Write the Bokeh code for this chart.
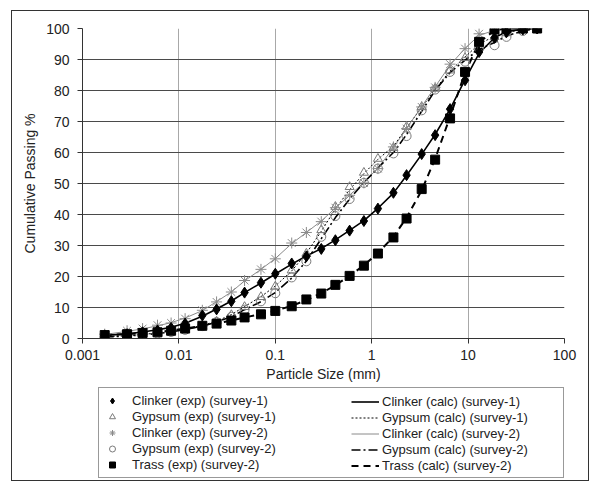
from bokeh.plotting import figure
from bokeh.layouts import column
from bokeh.models import (Legend, LegendItem, FixedTicker, CustomJSTickFormatter, Range1d)
from bokeh.embed import file_html
from bokeh.resources import INLINE

# ---------------- data ----------------
particle_size = [0.0017, 0.0029, 0.0042, 0.006, 0.0083, 0.0116, 0.0175, 0.0246, 0.035, 0.048,
                 0.071, 0.1, 0.148, 0.21, 0.3, 0.42, 0.59, 0.83, 1.16, 1.68,
                 2.3, 3.3, 4.55, 6.5, 9.3, 13.0, 18.8, 25.0, 37.0, 52.0]

clinker1_exp = [1.0, 1.4, 2.0, 2.6, 3.4, 4.8, 7.4, 9.4, 12.0, 14.8,
                18.0, 20.9, 24.2, 26.5, 28.9, 31.7, 34.8, 37.9, 41.9, 47.0,
                52.7, 59.5, 65.6, 74.0, 83.3, 92.4, 97.0, 98.8, 99.7, 100]
gypsum1_exp = [0.6, 0.9, 1.3, 1.8, 2.3, 3.0, 4.0, 5.5, 7.6, 10.2,
               13.4, 16.8, 22.0, 27.4, 35.0, 42.5, 48.9, 53.5, 58.0, 61.5,
               68.3, 74.7, 80.6, 86.5, 90.5, 95.0, 97.3, 98.5, 99.5, 100]
clinker2_exp = [1.4, 2.5, 3.2, 4.3, 5.0, 6.4, 9.1, 11.8, 15.0, 18.7,
                22.3, 25.7, 30.8, 34.2, 37.7, 42.2, 46.2, 50.2, 54.8, 61.8,
                67.7, 74.7, 81.0, 88.5, 93.5, 98.3, 99.5, 100, 100, 100]
gypsum2_exp = [0.5, 0.8, 1.2, 1.6, 2.1, 2.8, 4.0, 5.3, 7.0, 9.3,
               12.0, 14.6, 19.7, 24.9, 32.8, 39.5, 45.0, 50.2, 54.8, 59.7,
               65.3, 73.6, 80.3, 86.0, 89.3, 93.5, 94.6, 97.3, 99.2, 100]
trass_exp = [1.1, 1.4, 1.8, 2.0, 2.5, 3.2, 4.1, 4.8, 5.8, 6.8,
             7.8, 8.9, 10.4, 12.6, 14.5, 17.3, 20.2, 23.5, 27.4, 32.6,
             38.7, 48.2, 57.7, 71.0, 86.0, 95.7, 99.7, 100, 100, 100]

clinker1_calc = [1.0, 1.5, 2.1, 2.8, 3.6, 4.9, 7.2, 9.5, 12.1, 14.8,
                 17.9, 20.8, 24.0, 26.6, 29.0, 31.8, 34.9, 38.0, 42.0, 46.9,
                 52.6, 59.4, 65.8, 74.0, 83.5, 92.0, 97.0, 99.0, 99.8, 100]
gypsum1_calc = [0.6, 0.9, 1.3, 1.8, 2.4, 3.1, 4.2, 5.6, 7.7, 10.3,
                13.5, 16.9, 21.8, 27.5, 34.6, 41.8, 48.0, 53.2, 57.8, 62.0,
                68.0, 74.5, 80.5, 86.3, 90.8, 95.0, 97.5, 98.8, 99.6, 100]
clinker2_calc = [1.3, 2.3, 3.1, 4.1, 5.1, 6.6, 9.0, 11.9, 15.0, 18.6,
                 22.3, 25.8, 30.6, 34.2, 37.9, 42.1, 46.2, 50.3, 55.0, 61.5,
                 67.8, 74.8, 81.2, 88.2, 93.6, 97.8, 99.4, 99.9, 100, 100]
gypsum2_calc = [0.5, 0.8, 1.2, 1.6, 2.1, 2.9, 4.0, 5.3, 7.0, 9.3,
                11.9, 14.8, 19.5, 25.0, 32.2, 39.0, 45.0, 50.3, 55.0, 60.0,
                65.8, 73.3, 80.0, 85.8, 89.8, 93.2, 95.5, 97.6, 99.2, 100]
trass_calc = [1.1, 1.4, 1.8, 2.1, 2.6, 3.2, 4.0, 4.8, 5.8, 6.8,
              7.9, 9.0, 10.5, 12.4, 14.6, 17.2, 20.2, 23.6, 27.6, 32.8,
              39.0, 47.8, 58.0, 71.5, 85.8, 95.5, 99.4, 100, 100, 100]

exp_labels = ["Clinker (exp) (survey-1)", "Gypsum (exp) (survey-1)", "Clinker (exp) (survey-2)",
              "Gypsum (exp) (survey-2)", "Trass (exp) (survey-2)"]
calc_labels = ["Clinker (calc) (survey-1)", "Gypsum (calc) (survey-1)", "Clinker (calc) (survey-2)",
               "Gypsum (calc) (survey-2)", "Trass (calc) (survey-2)"]

x_ticks = [0.001, 0.01, 0.1, 1, 10, 100]
y_ticks = [0, 10, 20, 30, 40, 50, 60, 70, 80, 90, 100]

FONT = "Liberation Sans"

# style definitions (shared by the plot and the legend panel)
exp_styles = [
    dict(marker="diamond", size=11, fill_color="black", line_color="black"),
    dict(marker="triangle", size=9, fill_color=None, line_color="#7a7a7a", line_width=1),
    dict(marker="asterisk", size=11, line_color="#8a8a8a", line_width=1),
    dict(marker="circle", size=9, fill_color=None, line_color="#7a7a7a", line_width=1),
    dict(marker="square", size=9, fill_color="black", line_color="black"),
]
calc_styles = [
    dict(line_color="black", line_width=1.6),
    dict(line_color="black", line_width=1, line_dash="2 2"),
    dict(line_color="#8a8a8a", line_width=1),
    dict(line_color="black", line_width=1.6, line_dash="9 3 2 3"),
    dict(line_color="black", line_width=2, line_dash="7 5"),
]
exp_series = [clinker1_exp, gypsum1_exp, clinker2_exp, gypsum2_exp, trass_exp]
calc_series = [clinker1_calc, gypsum1_calc, clinker2_calc, gypsum2_calc, trass_calc]

# ---------------- main chart ----------------
p = figure(x_axis_type="log", x_range=Range1d(0.001, 100), y_range=Range1d(0, 100),
           width=576, height=373,
           min_border_left=70, min_border_right=24, min_border_top=17, min_border_bottom=46,
           output_backend="svg", toolbar_location=None)
p.outline_line_color = None

p.xgrid.ticker = FixedTicker(ticks=x_ticks)
p.ygrid.ticker = FixedTicker(ticks=y_ticks)
p.xgrid.grid_line_color = "#a8a8a8"
p.ygrid.grid_line_color = "#4a4a4a"

p.xaxis.ticker = FixedTicker(ticks=x_ticks)
p.yaxis.ticker = FixedTicker(ticks=y_ticks)
p.xaxis.formatter = CustomJSTickFormatter(code="return tick.toString();")
for ax in (p.xaxis, p.yaxis):
    ax.axis_line_color = "#333333"
    ax.major_tick_line_color = "#333333"
    ax.major_tick_in = 0
    ax.major_tick_out = 5
    ax.minor_tick_line_color = None
    ax.major_label_text_font = FONT
    ax.major_label_text_font_size = "14px"
    ax.major_label_text_color = "#222222"
    ax.axis_label_text_font = FONT
    ax.axis_label_text_font_size = "14px"
    ax.axis_label_text_font_style = "normal"
    ax.axis_label_text_color = "#222222"
p.xaxis.axis_label = "Particle Size (mm)"
p.yaxis.axis_label = "Cumulative Passing %"
p.xaxis.major_label_standoff = 6
p.xaxis.axis_label_standoff = 3
p.yaxis.major_label_standoff = 8
p.yaxis.axis_label_standoff = 5

for ys, st in zip(calc_series, calc_styles):
    p.line(particle_size, ys, **st)
draw_order = [1, 3, 2, 0, 4]
for i in draw_order:
    p.scatter(particle_size, exp_series[i], **exp_styles[i])

# ---------------- legend panel ----------------
# The legend panel re-uses the same series; its y range lies below all values,
# so only the legend entries are visible there.
q = figure(width=576, height=96, x_range=Range1d(0, 1), y_range=Range1d(-2, -1),
           min_border=0, x_axis_location=None, y_axis_location=None,
           output_backend="svg", toolbar_location=None)
q.outline_line_color = None
q.xgrid.visible = False
q.ygrid.visible = False

exp_items = []
for lab, ys, st in zip(exp_labels, exp_series, exp_styles):
    r = q.scatter(particle_size, ys, **st)
    exp_items.append(LegendItem(label=lab, renderers=[r]))
calc_items = []
for lab, ys, st in zip(calc_labels, calc_series, calc_styles):
    r = q.line(particle_size, ys, **st)
    calc_items.append(LegendItem(label=lab, renderers=[r]))

common = dict(label_text_font=FONT, label_text_font_size="13px", label_text_color="#222222",
              glyph_height=15, label_height=15, spacing=1, margin=0)
leg_left = Legend(items=exp_items, location=(16, 2), orientation="vertical",
                  border_line_color="#333333", border_line_width=1,
                  background_fill_color="white", background_fill_alpha=1,
                  glyph_width=16, label_standoff=12, label_width=426, padding=5, **common)
leg_right = Legend(items=calc_items, location=(269, 7), orientation="vertical",
                   border_line_color=None, background_fill_alpha=0,
                   glyph_width=28, label_standoff=3, padding=0, **common)
q.add_layout(leg_left, "center")
q.add_layout(leg_right, "center")

layout = column(p, q, spacing=0,
                styles={"border": "1px solid #333333", "margin-left": "11px", "margin-top": "10px"})

open("out.html", "w").write(file_html(layout, INLINE))
